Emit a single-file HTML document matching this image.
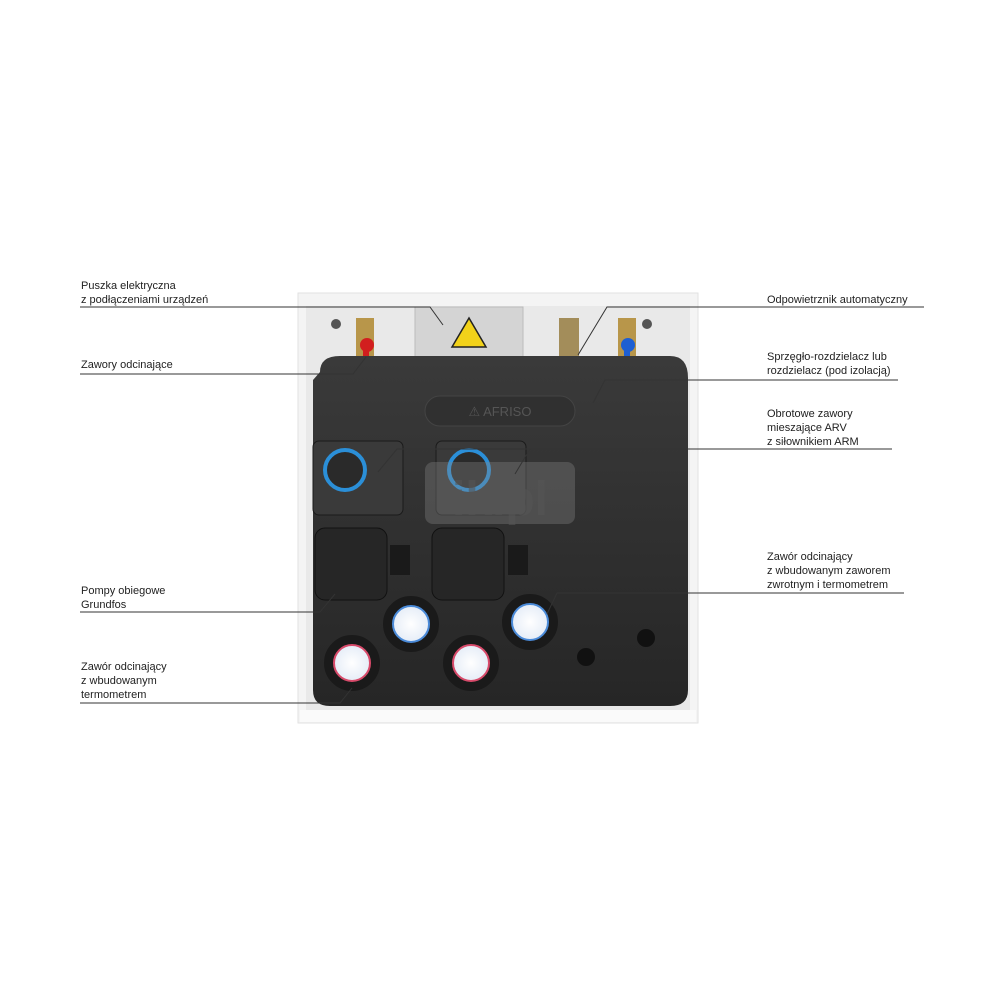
<!DOCTYPE html>
<html><head><meta charset="utf-8"><style>
body{margin:0;background:#fff;}
.w{position:relative;width:1000px;height:1000px;overflow:hidden;font-family:"Liberation Sans",sans-serif;}
.t{position:absolute;font-size:11px;line-height:14px;color:#222;}
svg{position:absolute;left:0;top:0;}
</style></head><body><div class="w">
<svg width="1000" height="1000" viewBox="0 0 1000 1000">
<defs>
<radialGradient id="g1" cx="50%" cy="50%" r="50%"><stop offset="0" stop-color="#fff"/><stop offset="1" stop-color="#dfe8f5"/></radialGradient>
<linearGradient id="ins" x1="0" y1="0" x2="0" y2="1"><stop offset="0" stop-color="#3a3a3a"/><stop offset="1" stop-color="#262626"/></linearGradient>
</defs>
<rect x="298" y="293" width="400" height="430" fill="#f4f4f4" stroke="#e2e2e2"/>
<rect x="306" y="306" width="384" height="404" fill="#e9e9e9"/>
<rect x="300" y="710" width="396" height="12" fill="#fafafa"/>
<circle cx="336" cy="324" r="5" fill="#555"/><circle cx="647" cy="324" r="5" fill="#555"/>
<rect x="415" y="307" width="108" height="62" fill="#d4d4d4" stroke="#bbb"/>
<polygon points="469,318 452,347 486,347" fill="#f2d21a" stroke="#222" stroke-width="1.5"/>
<rect x="356" y="318" width="18" height="50" fill="#b8964a"/>
<rect x="618" y="318" width="18" height="50" fill="#b8964a"/>
<circle cx="367" cy="345" r="7" fill="#d21e1e"/><rect x="363" y="345" width="6" height="14" fill="#d21e1e"/>
<circle cx="628" cy="345" r="7" fill="#1e5fd2"/><rect x="624" y="345" width="6" height="14" fill="#1e5fd2"/>
<rect x="559" y="318" width="20" height="48" fill="#a38d5a"/>
<path d="M320 372 Q320 356 340 356 L670 356 Q688 356 688 378 L688 690 Q688 706 670 706 L330 706 Q313 706 313 690 L313 380 Z" fill="url(#ins)"/>
<rect x="425" y="396" width="150" height="30" rx="15" fill="#303030" stroke="#444"/>
<text x="500" y="416" font-size="13" fill="#555" text-anchor="middle" font-family="Liberation Sans">⚠ AFRISO</text>
<rect x="313" y="441" width="90" height="74" rx="6" fill="#3a3a3a" stroke="#1b1b1b"/>
<rect x="436" y="441" width="90" height="74" rx="6" fill="#3a3a3a" stroke="#1b1b1b"/>
<circle cx="345" cy="470" r="20" fill="#2a2a2a" stroke="#2b8fd8" stroke-width="4"/>
<circle cx="469" cy="470" r="20" fill="#2a2a2a" stroke="#2b8fd8" stroke-width="4"/>
<rect x="425" y="462" width="150" height="62" rx="8" fill="#888" opacity="0.35"/>
<text x="500" y="515" font-size="48" font-weight="bold" fill="#555" opacity="0.6" text-anchor="middle">ik.pl</text>
<rect x="315" y="528" width="72" height="72" rx="10" fill="#262626" stroke="#111"/>
<rect x="432" y="528" width="72" height="72" rx="10" fill="#262626" stroke="#111"/>
<rect x="390" y="545" width="20" height="30" fill="#1a1a1a"/><rect x="508" y="545" width="20" height="30" fill="#1a1a1a"/>
<g stroke="#1a1a1a" stroke-width="10" fill="url(#g1)">
<circle cx="411" cy="624" r="23"/><circle cx="530" cy="622" r="23"/>
<circle cx="352" cy="663" r="23"/><circle cx="471" cy="663" r="23"/>
</g>
<g fill="none" stroke-width="2">
<circle cx="411" cy="624" r="18" stroke="#4a8ad8"/><circle cx="530" cy="622" r="18" stroke="#4a8ad8"/>
<circle cx="352" cy="663" r="18" stroke="#d84a6a"/><circle cx="471" cy="663" r="18" stroke="#d84a6a"/>
</g>
<circle cx="646" cy="638" r="9" fill="#111"/><circle cx="586" cy="657" r="9" fill="#111"/>
<g stroke="#333" stroke-width="1" fill="none">
<polyline points="80,307 430,307 443,325"/>
<polyline points="80,374 353,374 366,357"/>
<polyline points="80,612 320,612 335,594"/>
<polyline points="80,703 340,703 352,688"/>
<polyline points="924,307 607,307 578,355"/>
<polyline points="898,380 605,380 593,403"/>
<polyline points="892,449 397,449 378,472"/>
<polyline points="530,449 515,474"/>
<polyline points="904,593 557,593 547,614"/>
</g>
</svg>
<div class="t" style="left:81px;top:279px">Puszka elektryczna<br>z podłączeniami urządzeń</div>
<div class="t" style="left:81px;top:358px">Zawory odcinające</div>
<div class="t" style="left:81px;top:584px">Pompy obiegowe<br>Grundfos</div>
<div class="t" style="left:81px;top:660px">Zawór odcinający<br>z wbudowanym<br>termometrem</div>
<div class="t" style="left:767px;top:293px">Odpowietrznik automatyczny</div>
<div class="t" style="left:767px;top:350px">Sprzęgło-rozdzielacz lub<br>rozdzielacz (pod izolacją)</div>
<div class="t" style="left:767px;top:407px">Obrotowe zawory<br>mieszające ARV<br>z siłownikiem ARM</div>
<div class="t" style="left:767px;top:550px">Zawór odcinający<br>z wbudowanym zaworem<br>zwrotnym i termometrem</div>
</div></body></html>
